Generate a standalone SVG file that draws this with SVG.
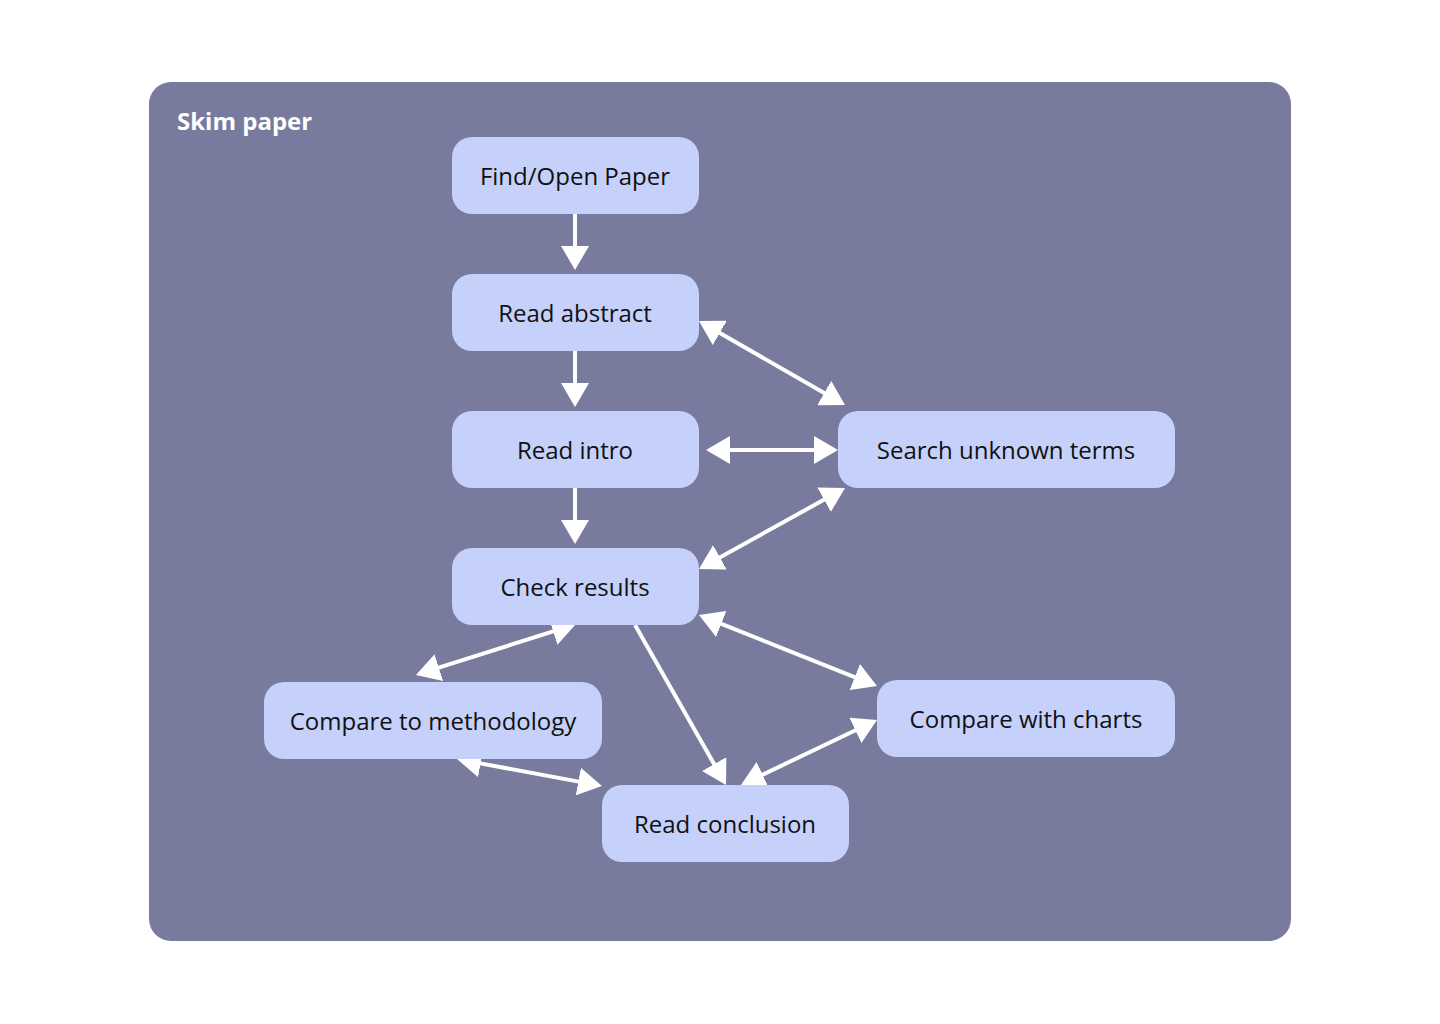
<svg xmlns="http://www.w3.org/2000/svg" width="1440" height="1024" viewBox="0 0 1440 1024">
<style>
.node rect{fill:#c5d0fb;}
.node text{font-family:"Open Sans","Noto Sans",sans-serif;font-size:24px;fill:#111;text-anchor:middle;}
.title{font-family:"Open Sans","Noto Sans",sans-serif;font-size:24px;font-weight:bold;fill:#fff;}
#connectors line{stroke:#fff;stroke-width:4;fill:none;}
</style>
<defs>
<marker id="ah" viewBox="0 0 24 28" refX="10" refY="14" markerWidth="24" markerHeight="28" markerUnits="userSpaceOnUse" orient="auto-start-reverse">
<path d="M0,0 L24,14 L0,28 z" fill="#fff"/>
</marker>
</defs>
<rect width="1440" height="1024" fill="#fff"/>
<g id="container">
<rect x="149" y="82" width="1142" height="859" rx="22" fill="#787b9e"/>
<text class="title" x="177" y="130">Skim paper</text>
</g>
<g id="connectors">
<line x1="575" y1="213" x2="575" y2="256" marker-end="url(#ah)"/>
<line x1="575" y1="350" x2="575" y2="393" marker-end="url(#ah)"/>
<line x1="575" y1="487" x2="575" y2="530" marker-end="url(#ah)"/>
<line x1="711.1" y1="328" x2="832.9" y2="398" marker-start="url(#ah)" marker-end="url(#ah)"/>
<line x1="720" y1="450" x2="824" y2="450" marker-start="url(#ah)" marker-end="url(#ah)"/>
<line x1="711.2" y1="562.2" x2="832.8" y2="494.8" marker-start="url(#ah)" marker-end="url(#ah)"/>
<line x1="562.7" y1="628.3" x2="429.3" y2="670.7" marker-start="url(#ah)" marker-end="url(#ah)"/>
<line x1="712" y1="620.2" x2="864" y2="680.8" marker-start="url(#ah)" marker-end="url(#ah)"/>
<line x1="635" y1="625" x2="719.1" y2="772.8" marker-end="url(#ah)"/>
<line x1="470.8" y1="761.6" x2="588.2" y2="783.4" marker-start="url(#ah)" marker-end="url(#ah)"/>
<line x1="864.4" y1="726" x2="753.6" y2="779" marker-start="url(#ah)" marker-end="url(#ah)"/>
</g>
<g id="find" class="node"><rect x="452" y="137" width="247" height="77" rx="20"/><text x="575" y="185">Find/Open Paper</text></g>
<g id="abstract" class="node"><rect x="452" y="274" width="247" height="77" rx="20"/><text x="575" y="322">Read abstract</text></g>
<g id="intro" class="node"><rect x="452" y="411" width="247" height="77" rx="20"/><text x="575" y="459">Read intro</text></g>
<g id="results" class="node"><rect x="452" y="548" width="247" height="77" rx="20"/><text x="575" y="596">Check results</text></g>
<g id="search" class="node"><rect x="838" y="411" width="337" height="77" rx="20"/><text x="1006" y="459">Search unknown terms</text></g>
<g id="methodology" class="node"><rect x="264" y="682" width="338" height="77" rx="20"/><text x="433" y="730">Compare to methodology</text></g>
<g id="charts" class="node"><rect x="877" y="680" width="298" height="77" rx="20"/><text x="1026" y="728">Compare with charts</text></g>
<g id="conclusion" class="node"><rect x="602" y="785" width="247" height="77" rx="20"/><text x="725" y="833">Read conclusion</text></g>
</svg>
